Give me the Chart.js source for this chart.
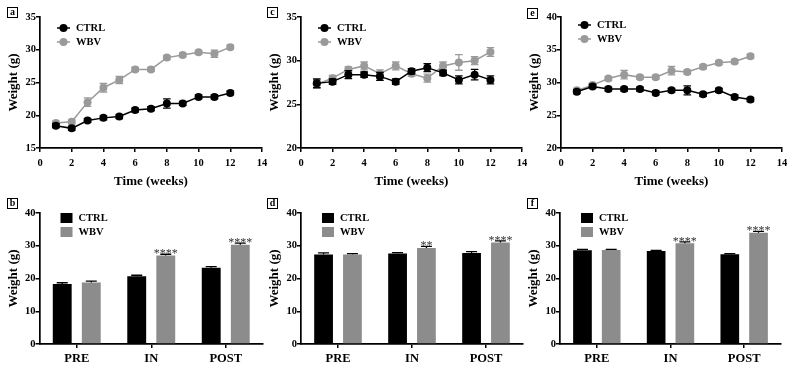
<!DOCTYPE html>
<html><head><meta charset="utf-8">
<script src="https://cdn.jsdelivr.net/npm/chart.js@4.4.1/dist/chart.umd.min.js"></script>
<style>
html,body{margin:0;padding:0;background:#fff;width:792px;height:368px;overflow:hidden}
canvas{position:absolute;left:0;top:0}
.lbl{position:absolute;width:9px;height:9px;border:1px solid #000;font:bold 10px "Liberation Serif",serif;line-height:8px;text-align:center;color:#000;background:#fff}
</style></head><body>
<canvas id="ca" width="792" height="368"></canvas>
<canvas id="cc" width="792" height="368"></canvas>
<canvas id="ce" width="792" height="368"></canvas>
<canvas id="cb" width="792" height="368"></canvas>
<canvas id="cd" width="792" height="368"></canvas>
<canvas id="cf" width="792" height="368"></canvas>
<div class="lbl" style="left:7px;top:7px">a</div>
<div class="lbl" style="left:267px;top:7px">c</div>
<div class="lbl" style="left:527px;top:8px">e</div>
<div class="lbl" style="left:7px;top:198px">b</div>
<div class="lbl" style="left:267px;top:198px">d</div>
<div class="lbl" style="left:527px;top:198px">f</div>
<script>
// ---------- DATA ----------
const weeks = [1,2,3,4,5,6,7,8,9,10,11,12];
const phases = ['PRE','IN','POST'];
const seriesNames = ['CTRL','WBV'];

// Panel a (line)
const aCtrl    = [18.4,18.0,19.2,19.6,19.8,20.8,21.0,21.8,21.8,22.8,22.8,23.4];
const aCtrlErr = [0.3,0.3,0.3,0.3,0.3,0.3,0.3,0.7,0.3,0.3,0.3,0.3];
const aWbv     = [18.8,19.0,22.0,24.2,25.4,27.0,27.0,28.8,29.2,29.6,29.4,30.4];
const aWbvErr  = [0.3,0.3,0.65,0.65,0.55,0.3,0.3,0.3,0.3,0.3,0.55,0.3];
// Panel c (line)
const cCtrl    = [27.4,27.6,28.4,28.4,28.2,27.6,28.8,29.2,28.6,27.8,28.4,27.8];
const cCtrlErr = [0.5,0.3,0.45,0.3,0.45,0.3,0.3,0.45,0.3,0.45,0.6,0.45];
const cWbv     = [27.3,28.0,29.0,29.4,28.5,29.4,28.5,28.0,29.4,29.8,30.0,31.0];
const cWbvErr  = [0.4,0.3,0.3,0.45,0.45,0.45,0.3,0.45,0.45,0.9,0.45,0.5];
// Panel e (line)
const eCtrl    = [28.6,29.4,29.0,29.0,29.0,28.4,28.8,28.8,28.2,28.8,27.8,27.4];
const eCtrlErr = [0.3,0.3,0.3,0.3,0.3,0.3,0.3,0.7,0.3,0.3,0.3,0.3];
const eWbv     = [28.8,29.6,30.6,31.2,30.8,30.8,31.8,31.6,32.4,33.0,33.2,34.0];
const eWbvErr  = [0.3,0.3,0.3,0.65,0.3,0.3,0.65,0.3,0.3,0.3,0.3,0.3];
// Panel b (bar)
const bCtrl    = [18.3,20.7,23.3];
const bCtrlErr = [0.4,0.3,0.3];
const bWbv     = [18.8,27.0,30.3];
const bWbvErr  = [0.4,0.4,0.5];
const bStars   = ['','****','****'];
// Panel d (bar)
const dCtrl    = [27.3,27.6,27.8];
const dCtrlErr = [0.5,0.3,0.4];
const dWbv     = [27.3,29.3,31.0];
const dWbvErr  = [0.3,0.5,0.5];
const dStars   = ['','**','****'];
// Panel f (bar)
const fCtrl    = [28.6,28.4,27.4];
const fCtrlErr = [0.3,0.2,0.2];
const fWbv     = [28.7,30.8,34.0];
const fWbvErr  = [0.2,0.4,0.4];
const fStars   = ['','****','****'];

// ---------- STYLE ----------
const FONT = '"Liberation Serif","Times New Roman",serif';
const BLACK = '#000000', GRAY_LINE = '#9a9a9a', GRAY_BAR = '#8c8c8c';
Chart.defaults.font.family = FONT;
Chart.defaults.font.weight = 'bold';
Chart.defaults.color = '#000';
Chart.defaults.animation = false;

const Y_W = 33.8;

const errPlugin = {
  id: 'errBars',
  afterDatasetDraw(chart, args) {
    const ds = chart.data.datasets[args.index];
    if (!ds.errors) return;
    const isBar = chart.config.type === 'bar';
    const y = chart.scales.y, ctx = chart.ctx;
    ctx.save();
    ctx.strokeStyle = ds.errColor;
    ctx.lineWidth = 1.3;
    args.meta.data.forEach((el, i) => {
      const d = ds.data[i];
      const v = (typeof d === 'object') ? d.y : d;
      const e = ds.errors[i];
      const x = el.x;
      const yt = y.getPixelForValue(v + e);
      const yb = isBar ? y.getPixelForValue(v) : y.getPixelForValue(v - e);
      const hw = ds.capHalf;
      ctx.beginPath();
      ctx.moveTo(x, yt); ctx.lineTo(x, yb);
      ctx.moveTo(x - hw, yt); ctx.lineTo(x + hw, yt);
      if (!isBar) { ctx.moveTo(x - hw, yb); ctx.lineTo(x + hw, yb); }
      ctx.stroke();
      if (ds.stars && ds.stars[i]) {
        ctx.fillStyle = '#333';
        ctx.font = 'normal 12px ' + FONT;
        ctx.textAlign = 'center';
        ctx.textBaseline = 'alphabetic';
        ctx.fillText(ds.stars[i], x, yt + 3);
      }
    });
    ctx.restore();
  }
};

const legendPlugin = {
  id: 'innerLegend',
  afterDraw(chart) {
    const o = chart.options.plugins.innerLegend;
    if (!o) return;
    const ctx = chart.ctx, a = chart.chartArea;
    ctx.save();
    ctx.font = 'bold 10.5px ' + FONT;
    ctx.textBaseline = 'middle';
    ctx.textAlign = 'left';
    chart.data.datasets.forEach((ds, i) => {
      const yy = a.top + o.y[i];
      if (o.kind === 'line') {
        ctx.strokeStyle = ds.borderColor; ctx.lineWidth = 1.5;
        ctx.beginPath(); ctx.moveTo(a.left + 17, yy); ctx.lineTo(a.left + 30, yy); ctx.stroke();
        ctx.fillStyle = ds.borderColor;
        ctx.beginPath(); ctx.arc(a.left + 23.5, yy, 4, 0, Math.PI * 2); ctx.fill();
        ctx.fillStyle = '#000';
        ctx.fillText(ds.label, a.left + 36, yy + 0.5);
      } else {
        ctx.fillStyle = ds.backgroundColor;
        ctx.fillRect(a.left + 21, yy - 5, 12, 10);
        ctx.fillStyle = '#000';
        ctx.fillText(ds.label, a.left + 39, yy + 0.5);
      }
    });
    ctx.restore();
  }
};

function scaleX(opts, xH) {
  return Object.assign({
    border: { color: '#000', width: 1.7 },
    grid: { drawOnChartArea: false, drawTicks: true, tickLength: 4, color: '#000', lineWidth: 1.5 },
    afterFit(s) { s.height = xH; s.paddingLeft = 0; s.paddingRight = 0; }
  }, opts);
}
function scaleY(min, max, step) {
  return {
    min, max,
    border: { color: '#000', width: 1.7 },
    grid: { drawOnChartArea: false, drawTicks: true, tickLength: 4, color: '#000', lineWidth: 1.5 },
    ticks: { stepSize: step, padding: 0, font: { size: 10.5, weight: 'bold' }, color: '#000' },
    title: { display: true, text: 'Weight (g)', font: { size: 13, weight: 'bold' }, padding: 0, color: '#000' },
    afterFit(s) { s.width = Y_W; s.paddingTop = 0; s.paddingBottom = 0; }
  };
}

function lineChart(id, box, yMin, yMax, ctrl, ctrlErr, wbv, wbvErr, legY) {
  const xH = 41.5;
  const pts = arr => weeks.map((w, i) => ({ x: w, y: arr[i] }));
  const mk = (label, arr, err, col) => ({
    label, data: pts(arr), errors: err, errColor: col, capHalf: 3.8,
    borderColor: col, backgroundColor: col, pointBackgroundColor: col, pointBorderColor: col,
    pointRadius: 4, pointBorderWidth: 0, borderWidth: 1.5, tension: 0
  });
  new Chart(document.getElementById(id), {
    type: 'line',
    data: { datasets: [mk(seriesNames[0], ctrl, ctrlErr, BLACK), mk(seriesNames[1], wbv, wbvErr, GRAY_LINE)] },
    options: {
      responsive: false, animation: false,
      layout: { autoPadding: false, padding: { left: box[0] - Y_W, top: box[1], right: 792 - box[2], bottom: 368 - box[3] - xH } },
      plugins: { legend: { display: false }, tooltip: { enabled: false }, innerLegend: { kind: 'line', y: legY } },
      scales: {
        x: scaleX({
          type: 'linear', min: 0, max: 14,
          ticks: { stepSize: 2, padding: 5, maxRotation: 0, font: { size: 10.5, weight: 'bold' }, color: '#000' },
          title: { display: true, text: 'Time (weeks)', font: { size: 13, weight: 'bold' }, padding: 0, color: '#000' }
        }, xH),
        y: scaleY(yMin, yMax, 5)
      }
    },
    plugins: [errPlugin, legendPlugin]
  });
}

function barChart(id, box, ctrl, ctrlErr, wbv, wbvErr, stars) {
  const xH = 30;
  const mk = (label, arr, err, col, st) => ({
    label, data: arr, errors: err, errColor: '#000', capHalf: 5.5, stars: st,
    backgroundColor: col, borderWidth: 0, categoryPercentage: 0.78, barPercentage: 0.65
  });
  new Chart(document.getElementById(id), {
    type: 'bar',
    data: { labels: phases, datasets: [mk(seriesNames[0], ctrl, ctrlErr, BLACK, null), mk(seriesNames[1], wbv, wbvErr, GRAY_BAR, stars)] },
    options: {
      responsive: false, animation: false,
      layout: { autoPadding: false, padding: { left: box[0] - Y_W, top: box[1], right: 792 - box[2], bottom: 368 - box[3] - xH } },
      plugins: { legend: { display: false }, tooltip: { enabled: false }, innerLegend: { kind: 'bar', y: [5, 19] } },
      scales: {
        x: scaleX({
          type: 'category',
          grid: { drawOnChartArea: false, drawTicks: true, tickLength: 4, color: '#000', lineWidth: 1.5, offset: false },
          ticks: { padding: 3, maxRotation: 0, font: { size: 12.5, weight: 'bold' }, color: '#000' }
        }, xH),
        y: scaleY(0, 40, 10)
      }
    },
    plugins: [errPlugin, legendPlugin]
  });
}

lineChart('ca', [40, 17, 262, 148], 15, 35, aCtrl, aCtrlErr, aWbv, aWbvErr, [11, 25]);
lineChart('cc', [301, 17, 522, 148], 20, 35, cCtrl, cCtrlErr, cWbv, cWbvErr, [11, 25]);
lineChart('ce', [561, 17, 782, 148], 20, 40, eCtrl, eCtrlErr, eWbv, eWbvErr, [8, 22]);
barChart('cb', [39.5, 213, 263, 344], bCtrl, bCtrlErr, bWbv, bWbvErr, bStars);
barChart('cd', [301, 213, 523, 344], dCtrl, dCtrlErr, dWbv, dWbvErr, dStars);
barChart('cf', [560, 213, 781, 344], fCtrl, fCtrlErr, fWbv, fWbvErr, fStars);
</script>
</body></html>
